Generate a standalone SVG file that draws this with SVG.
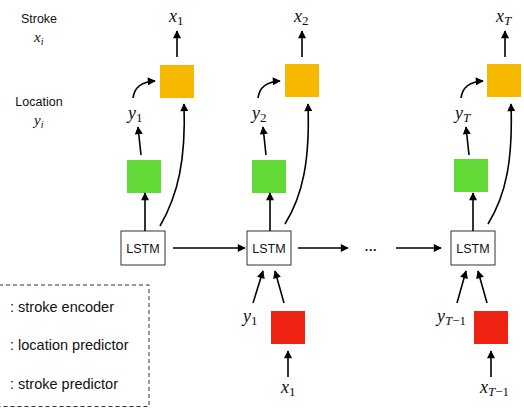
<svg xmlns="http://www.w3.org/2000/svg" width="524" height="408" viewBox="0 0 524 408">
<style>
.a{fill:none;stroke:#000;stroke-width:1.6;marker-end:url(#ah)}
.lstm{fill:#fff;stroke:#333;stroke-width:1}
.t{font-family:"Liberation Sans",Arial,sans-serif;font-size:12.5px;fill:#111}
.lg{font-size:14.5px}
.m{font-family:"Liberation Serif","Times New Roman",serif;font-style:italic;font-size:18px;fill:#111}
.s{font-style:normal;font-size:13px}
.si{font-style:italic;font-size:13px}
.sm{font-family:"Liberation Serif","Times New Roman",serif;font-style:italic;font-size:15px;fill:#111}
.o{fill:#F7B900}.g{fill:#62D936}.r{fill:#EE2312}
</style>
<defs>
<marker id="ah" viewBox="0 0 10 10" refX="9" refY="5" markerWidth="9" markerHeight="8" markerUnits="userSpaceOnUse" orient="auto"><path d="M0,0L10,5L0,10z" fill="#000"/></marker>
</defs>
<g id="labels">
<text class="t" x="39" y="23" text-anchor="middle">Stroke</text>
<text class="sm" x="34" y="42">x<tspan font-size="10" dy="3">i</tspan></text>
<text class="t" x="39" y="105.5" text-anchor="middle">Location</text>
<text class="sm" x="34" y="125">y<tspan font-size="10" dy="3">i</tspan></text>
</g>
<g id="legend">
<rect x="-1" y="285" width="150" height="121.5" fill="none" stroke="#333" stroke-width="1" stroke-dasharray="4,3"/>
<text class="t lg" x="10" y="311.5">: stroke encoder</text>
<text class="t lg" x="10" y="350">: location predictor</text>
<text class="t lg" x="10" y="388.5">: stroke predictor</text>
</g>
<g id="col1">
<rect class="lstm" x="121" y="231" width="44" height="34"/>
<text class="t" x="143" y="252.5" text-anchor="middle">LSTM</text>
<rect class="g" x="127" y="160" width="34" height="33"/>
<rect class="o" x="160" y="65" width="34" height="33"/>
<text class="m" x="169" y="22">x<tspan class="s" dy="3">1</tspan></text>
<text class="m" x="128" y="119">y<tspan class="s" dy="3">1</tspan></text>
</g>
<g id="col2">
<rect class="lstm" x="247" y="231" width="44" height="34"/>
<text class="t" x="269" y="252.5" text-anchor="middle">LSTM</text>
<rect class="g" x="252" y="160" width="34" height="33"/>
<rect class="o" x="285" y="64" width="34" height="33"/>
<text class="m" x="294" y="22">x<tspan class="s" dy="3">2</tspan></text>
<text class="m" x="252" y="119">y<tspan class="s" dy="3">2</tspan></text>
<rect class="r" x="271" y="311" width="34" height="33"/>
<text class="m" x="243" y="322">y<tspan class="s" dy="3">1</tspan></text>
<text class="m" x="281" y="393">x<tspan class="s" dy="3">1</tspan></text>
</g>
<g id="dots">
<text class="t" x="371" y="254" text-anchor="middle" font-weight="bold" font-size="22">···</text>
</g>
<g id="col3">
<rect class="lstm" x="451" y="231" width="44" height="34"/>
<text class="t" x="473" y="252.5" text-anchor="middle">LSTM</text>
<rect class="g" x="454" y="159" width="34" height="33"/>
<rect class="o" x="487" y="64" width="34" height="33"/>
<text class="m" x="496" y="22">x<tspan class="si" dy="3">T</tspan></text>
<text class="m" x="455" y="119">y<tspan class="si" dy="3">T</tspan></text>
<rect class="r" x="474" y="311" width="34" height="33"/>
<text class="m" x="437" y="322">y<tspan class="si" dy="3">T</tspan><tspan class="s">−1</tspan></text>
<text class="m" x="480" y="393">x<tspan class="si" dy="3">T</tspan><tspan class="s">−1</tspan></text>
</g>
<g id="connectors">
<path class="a" d="M145,231V193"/>
<path class="a" d="M141,155L138,127"/>
<path class="a" d="M133,98Q135,82 155,81"/>
<path class="a" d="M177,57V31"/>
<path class="a" d="M160,226C178,195 186,160 184,104"/>
<path class="a" d="M173,248H245"/>
<path class="a" d="M270,231V193"/>
<path class="a" d="M266,155L263,127"/>
<path class="a" d="M258,98Q260,82 280,81"/>
<path class="a" d="M302,57V31"/>
<path class="a" d="M285,224C303,195 310,160 308,104"/>
<path class="a" d="M298,248H348"/>
<path class="a" d="M396,248H441"/>
<path class="a" d="M473,231V193"/>
<path class="a" d="M469,155L466,127"/>
<path class="a" d="M461,98Q463,82 483,81"/>
<path class="a" d="M505,57V31"/>
<path class="a" d="M488,224C506,195 513,160 511,104"/>
<path class="a" d="M253,303L263,271"/>
<path class="a" d="M284,303L275,271"/>
<path class="a" d="M288,377V351"/>
<path class="a" d="M457,303L466,271"/>
<path class="a" d="M487,303L478,271"/>
<path class="a" d="M491,377V351"/>
</g>
</svg>
